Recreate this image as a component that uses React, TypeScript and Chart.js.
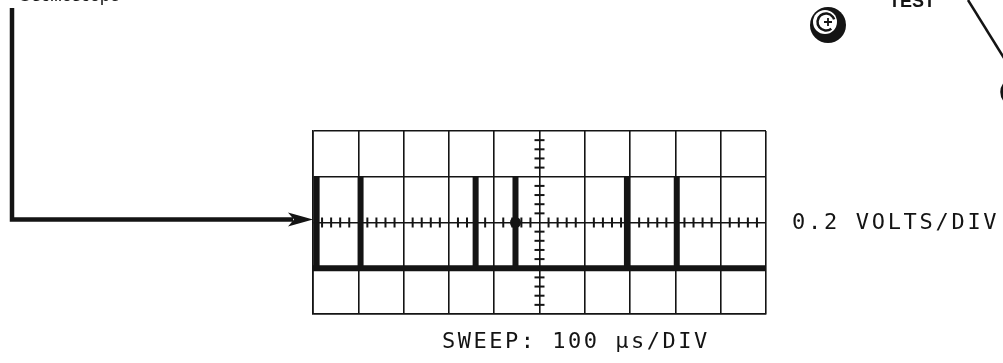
import React, { useEffect, useRef } from "react";
import { Chart, registerables } from "chart.js";

Chart.register(...registerables);

// ---- data (divisions on the graticule) ----
const pulsePositions = [0.08, 1.05, 3.59, 4.47, 6.93, 8.03];
const baselineLevel = -1;
const pulseLevel = 1;
const sweepRange = [0, 10];
const voltRange = [-2, 2];
const minorStep = 0.2;
const spotPoints = [{ x: 4.47, y: 0 }];
const voltsLabel = "0.2 VOLTS/DIV";
const sweepLabel = "SWEEP: 100 \u00b5s/DIV";
const inputLabel = "Oscilloscope";
const testLabel = "TEST";

function buildTrace() {
  const pts: { x: number; y: number }[] = [{ x: sweepRange[0], y: baselineLevel }];
  pulsePositions.forEach((p) => {
    pts.push({ x: p, y: baselineLevel });
    pts.push({ x: p, y: pulseLevel });
    pts.push({ x: p, y: baselineLevel });
  });
  pts.push({ x: sweepRange[1], y: baselineLevel });
  return pts;
}

const INK = "#141414";

const graticuleTicks = {
  id: "graticuleTicks",
  beforeDatasetsDraw(chart: any) {
    const { ctx, scales } = chart;
    const xs = scales.x;
    const ys = scales.y;
    const y0 = ys.getPixelForValue(0);
    const xc = xs.getPixelForValue((sweepRange[0] + sweepRange[1]) / 2);
    ctx.save();
    ctx.strokeStyle = INK;
    ctx.lineWidth = 2;
    const nx = Math.round((sweepRange[1] - sweepRange[0]) / minorStep);
    for (let i = 1; i < nx; i++) {
      if (i % 5 === 0) continue;
      const px = xs.getPixelForValue(sweepRange[0] + i * minorStep);
      ctx.beginPath();
      ctx.moveTo(px, y0 - 5);
      ctx.lineTo(px, y0 + 5);
      ctx.stroke();
    }
    const ny = Math.round((voltRange[1] - voltRange[0]) / minorStep);
    for (let j = 1; j < ny; j++) {
      if (j % 5 === 0) continue;
      const py = ys.getPixelForValue(voltRange[0] + j * minorStep);
      ctx.beginPath();
      ctx.moveTo(xc - 5, py);
      ctx.lineTo(xc + 5, py);
      ctx.stroke();
    }
    ctx.restore();
  },
};

const decorations = {
  id: "decorations",
  afterDraw(chart: any) {
    const { ctx, scales } = chart;
    const xs = scales.x;
    const ys = scales.y;
    const left = xs.getPixelForValue(sweepRange[0]);
    const right = xs.getPixelForValue(sweepRange[1]);
    const bottom = ys.getPixelForValue(voltRange[0]);
    const yArrow = ys.getPixelForValue(0) - 3;
    ctx.save();
    ctx.strokeStyle = INK;
    ctx.fillStyle = INK;

    // input lead with arrow
    ctx.lineWidth = 4.5;
    ctx.lineJoin = "miter";
    ctx.beginPath();
    ctx.moveTo(12, 8);
    ctx.lineTo(12, yArrow);
    ctx.lineTo(left - 20, yArrow);
    ctx.stroke();
    ctx.beginPath();
    ctx.moveTo(left, yArrow);
    ctx.lineTo(left - 25, yArrow - 7);
    ctx.lineTo(left - 19, yArrow);
    ctx.lineTo(left - 25, yArrow + 7);
    ctx.closePath();
    ctx.fill();

    // cut-off label at the top left
    ctx.font = "18px 'Liberation Sans', Arial, sans-serif";
    ctx.textAlign = "right";
    ctx.textBaseline = "alphabetic";
    ctx.fillText(inputLabel, 120, 0.5);

    // TEST label
    ctx.font = "bold 18px 'Liberation Sans', Arial, sans-serif";
    ctx.textAlign = "left";
    ctx.fillText(testLabel, 889, 7);

    // knob
    ctx.beginPath();
    ctx.ellipse(828, 25, 18, 18, 0, 0, Math.PI * 2);
    ctx.fill();
    ctx.fillStyle = "#fff";
    ctx.beginPath();
    ctx.arc(825, 22, 12, 0, Math.PI * 2);
    ctx.fill();
    ctx.strokeStyle = INK;
    ctx.lineWidth = 2.5;
    ctx.beginPath();
    ctx.arc(826, 22, 8.5, 0.9, Math.PI * 2 - 0.3);
    ctx.stroke();
    ctx.lineWidth = 1.8;
    ctx.beginPath();
    ctx.moveTo(824, 22);
    ctx.lineTo(832, 22);
    ctx.moveTo(828, 18);
    ctx.lineTo(828, 26);
    ctx.stroke();
    ctx.fillStyle = INK;

    // test lead
    ctx.lineWidth = 2.5;
    ctx.beginPath();
    ctx.moveTo(968, 0);
    ctx.lineTo(1004, 58);
    ctx.stroke();
    ctx.lineWidth = 3.5;
    ctx.beginPath();
    ctx.arc(1015, 92, 13, 0, Math.PI * 2);
    ctx.stroke();

    // scale labels
    ctx.font = "22px 'DejaVu Sans Mono', monospace";
    (ctx as any).letterSpacing = "2.7px";
    ctx.textAlign = "left";
    ctx.textBaseline = "middle";
    ctx.fillText(voltsLabel, right + 26, ys.getPixelForValue(0) + 1);
    (ctx as any).letterSpacing = "2.5px";
    ctx.textBaseline = "alphabetic";
    ctx.fillText(sweepLabel, 442, bottom + 34);
    (ctx as any).letterSpacing = "0px";
    ctx.restore();
  },
};

export default function App() {
  const ref = useRef<HTMLCanvasElement | null>(null);
  useEffect(() => {
    document.body.style.margin = "0";
    const canvas = ref.current;
    if (!canvas) return;
    const gridStyle = {
      color: INK,
      lineWidth: 1.6,
      drawTicks: false,
    };
    const chart = new Chart(canvas, {
      type: "scatter",
      data: {
        datasets: [
          {
            label: "trace",
            data: buildTrace(),
            showLine: true,
            borderColor: INK,
            backgroundColor: INK,
            borderWidth: 6,
            pointRadius: 0,
            borderJoinStyle: "miter",
            borderCapStyle: "butt",
          } as any,
          {
            label: "spot",
            data: spotPoints,
            pointRadius: 5.5,
            pointBackgroundColor: INK,
            pointBorderWidth: 0,
            showLine: false,
          } as any,
        ],
      },
      options: {
        responsive: false,
        animation: false,
        layout: { padding: { left: 313, right: 237, top: 131, bottom: 49 } },
        plugins: {
          legend: { display: false },
          tooltip: { enabled: false },
          title: { display: false },
        },
        scales: {
          x: {
            type: "linear",
            min: sweepRange[0],
            max: sweepRange[1],
            ticks: { display: false, stepSize: 1 },
            grid: gridStyle,
            border: { display: true, color: INK, width: 1.6 },
          },
          y: {
            type: "linear",
            min: voltRange[0],
            max: voltRange[1],
            ticks: { display: false, stepSize: 1 },
            grid: gridStyle,
            border: { display: true, color: INK, width: 1.6 },
          },
        },
      },
      plugins: [graticuleTicks, decorations],
    });
    return () => chart.destroy();
  }, []);
  return (
    <canvas
      ref={ref}
      width={1003}
      height={363}
      style={{ display: "block", width: 1003, height: 363 }}
    />
  );
}
